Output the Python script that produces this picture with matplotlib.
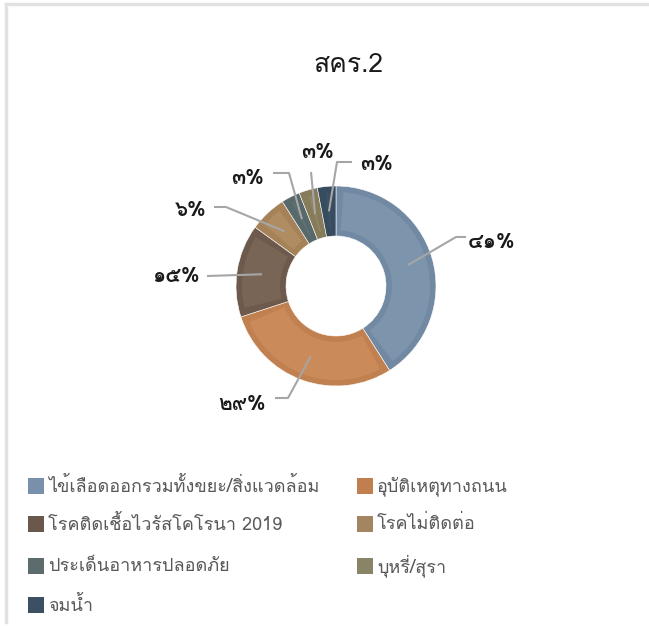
import math
import matplotlib
matplotlib.use("Agg")
import matplotlib.pyplot as plt
from matplotlib import font_manager, ft2font
from matplotlib.patches import Wedge, Rectangle


"""data: """
title = "สคร.2"
categories = ["ไข้เลือดออกรวมทั้งขยะ/สิ่งแวดล้อม", "อุบัติเหตุทางถนน",
              "โรคติดเชื้อไวรัสโคโรนา 2019", "โรคไม่ติดต่อ",
              "ประเด็นอาหารปลอดภัย", "บุหรี่/สุรา", "จมน้ำ"]
values = [41, 29, 15, 6, 3, 3, 3]
labels = ["๔๑%", "๒๙%", "๑๕%", "๖%", "๓%", "๓%", "๓%"]

"""styles: """
dark = ["#7189a2", "#c1804f", "#6d5a4c", "#a68259", "#58696b", "#877c5a", "#384c60"]
light = ["#7d94ad", "#cb8a59", "#796556", "#b08c62", "#5f7173", "#918664", "#3f5367"]
legend_col = ["#7a90aa", "#c17f50", "#6b584d", "#a48562", "#5c6c6c", "#8a8466", "#3c5064"]


# find a font that has thai glyphs
def thai_fonts():
    found = []
    for f in font_manager.fontManager.ttflist:
        try:
            cm = ft2font.FT2Font(f.fname).get_charmap()
        except Exception:
            continue
        if 0x0E01 in cm and 0x0E54 in cm and f.name not in found:
            found.append(f.name)
    return found

fams = thai_fonts()
plt.rcParams['font.family'] = fams[:1] + ['DejaVu Sans']

W, H = 649, 626
def Y(p):
    return H - p  # pixel row -> data y

cx, cy, R = 336, Y(286), 100

fig = plt.figure(figsize=(W / 100, H / 100), dpi=100)
ax = fig.add_axes([0, 0, 1, 1])

wedges, _ = ax.pie(values, colors=dark, startangle=90, counterclock=False,
                   radius=R, center=(cx, cy),
                   wedgeprops=dict(width=R * 0.5, edgecolor="white", linewidth=0.4))

# lighter inner part of each slice (bevel look)
inset = 6
for w, c in zip(wedges, light):
    d = math.degrees(inset / (R * 0.75))
    t1, t2 = w.theta1 + d, w.theta2 - d
    if t2 > t1:
        ax.add_patch(Wedge((cx, cy), R - inset, t1, t2, width=R * 0.5 - 2 * inset,
                           facecolor=c, edgecolor="none"))

"""labels + leader lines (text pos, elbow, end in pixels): """
lab_pos = [(468, 242, "left"), (266, 404, "right"), (200, 277, "right"),
           (207, 211, "right"), (264, 178, "right"), (318, 152, "center"),
           (360, 165, "left")]
elbows = [(456, 237), (288, 398), (207, 276), (226, 207), (289, 173), (311, 172), (337, 162)]
ends = [(466, 237), (275, 398), (207, 276), (214, 207), (273, 173), (311, 172), (352, 162)]

for w, lab, (tx, ty, ha), el, en in zip(wedges, labels, lab_pos, elbows, ends):
    mid = math.radians((w.theta1 + w.theta2) / 2)
    sx, sy = cx + R * 0.75 * math.cos(mid), cy + R * 0.75 * math.sin(mid)
    ax.plot([sx, el[0], en[0]], [sy, Y(el[1]), Y(en[1])], color="#a6a6a6", lw=1.5,
            solid_capstyle="butt")
    ax.text(tx, Y(ty), lab, ha=ha, va="center", fontsize=15, fontweight="bold",
            color="#1a1a1a")

ax.text(348, Y(65), title, ha="center", va="center", fontsize=19, color="#1a1a1a")

"""legend: """
col_x = [28, 357]
row_y = [486, 524, 566, 605]
for i, (name, c) in enumerate(zip(categories, legend_col)):
    x = col_x[i % 2]
    y = row_y[i // 2]
    ax.add_patch(Rectangle((x, Y(y) - 8), 16, 16, facecolor=c, edgecolor="none"))
    ax.text(x + 20, Y(y), name, ha="left", va="center", fontsize=13, color="#595959")

# chart frame (top and left edges visible)
ax.plot([6, W], [Y(4), Y(4)], color="#e2e2e2", lw=2.5)
ax.plot([6, 6], [Y(4), Y(622)], color="#e2e2e2", lw=2.5)

ax.set_xlim(0, W)
ax.set_ylim(0, H)
ax.set_aspect("equal")
ax.axis("off")

fig.savefig("out.png", dpi=100)
